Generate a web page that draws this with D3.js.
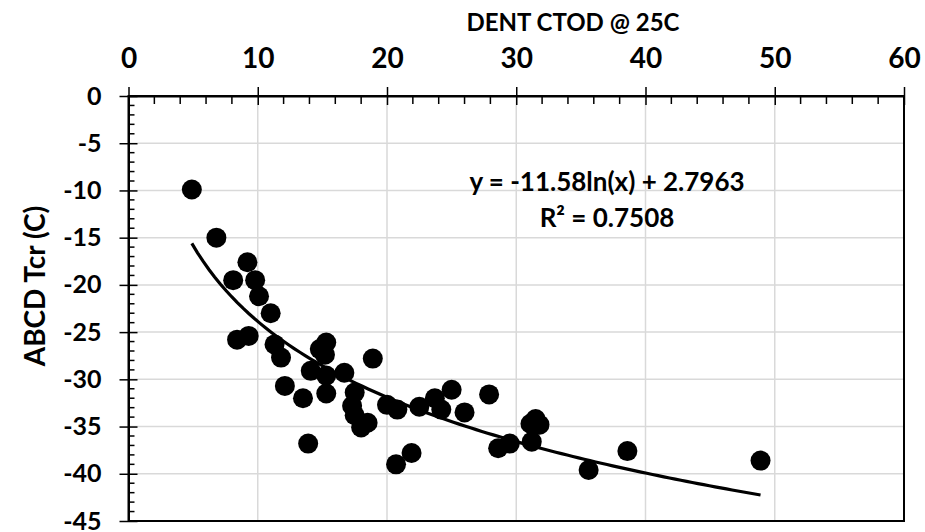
<!DOCTYPE html>
<html>
<head>
<meta charset="utf-8">
<script src="https://cdn.jsdelivr.net/npm/d3@7"></script>
<style>
  html, body { margin: 0; padding: 0; background: #fff; }
  text { font-family: Lato, "Open Sans", sans-serif; font-weight: 700; fill: #000; }
</style>
</head>
<body>
<svg id="chart" width="925" height="532"></svg>
<script>
// ---- data ----
const ctod = [4.9, 6.8, 9.2, 8.1, 9.8, 10.1, 11.0, 8.4, 9.3, 11.3, 11.8, 15.3, 14.8, 15.2, 14.1, 15.3, 16.7, 18.9, 12.1, 13.5, 15.3, 17.5, 17.3, 17.5, 18.5, 18.0, 13.9, 20.0, 20.8, 22.5, 23.7, 24.2, 25.0, 26.0, 27.9, 28.6, 29.5, 20.7, 21.9, 31.2, 31.5, 31.1, 31.8, 35.6, 38.6, 48.9];
const tcr  = [-9.9, -15.0, -17.6, -19.5, -19.5, -21.2, -23.0, -25.8, -25.4, -26.3, -27.7, -26.1, -26.8, -27.4, -29.1, -29.6, -29.3, -27.8, -30.7, -32.0, -31.5, -31.4, -32.8, -33.8, -34.6, -35.1, -36.8, -32.7, -33.2, -32.9, -32.0, -33.2, -31.1, -33.5, -31.6, -37.3, -36.8, -39.0, -37.8, -36.6, -34.2, -34.7, -34.8, -39.6, -37.6, -38.6];
const xTicks = [0, 10, 20, 30, 40, 50, 60];
const yTicks = [0, -5, -10, -15, -20, -25, -30, -35, -40, -45];
const trendCoef = [-11.58, 2.7963];
const eqLabel = "y = -11.58ln(x) + 2.7963";
const r2Label = "R² = 0.7508";
const xTitle = "DENT CTOD @ 25C";
const yTitle = "ABCD Tcr (C)";

// ---- layout ----
const L = 128.5, R = 904, T = 96, B = 521;
const svg = d3.select("#chart");
const x = d3.scaleLinear().domain([0, 60]).range([L, R]);
const y = d3.scaleLinear().domain([0, -45]).range([T, B]);
const fmt = d => String(d);

// gridlines
const grid = svg.append("g");
grid.selectAll("line.vx").data(xTicks.slice(1, -1)).join("line")
  .attr("x1", d => x(d)).attr("x2", d => x(d)).attr("y1", T).attr("y2", B)
  .attr("stroke", "#d9d9d9").attr("stroke-width", 1.5);
grid.selectAll("line.hy").data(yTicks.slice(1, -1)).join("line")
  .attr("y1", d => y(d)).attr("y2", d => y(d)).attr("x1", L).attr("x2", R)
  .attr("stroke", "#d9d9d9").attr("stroke-width", 1.5);

// plot border (right, bottom)
svg.append("rect").attr("x", L).attr("y", T).attr("width", R - L).attr("height", B - T)
  .attr("fill", "none").attr("stroke", "#000").attr("stroke-width", 2);

// top x axis: major ticks crossing, minor inside
const xAxisMajor = d3.axisTop(x).tickValues(xTicks).tickSizeInner(9).tickSizeOuter(0).tickFormat(fmt);
const gx = svg.append("g").attr("transform", `translate(0,${T})`).call(xAxisMajor);
gx.select(".domain").attr("stroke-width", 2);
gx.selectAll(".tick line").attr("stroke-width", 1.5).attr("y2", -9).attr("y1", 9);
gx.selectAll(".tick text").attr("font-size", 28).attr("y", -28).attr("dy", 0)
  .style("font-family", "Lato, sans-serif").style("font-weight", 700);
const xMinor = d3.range(0, 61, 2).filter(v => v % 10 !== 0);
svg.append("g").selectAll("line").data(xMinor).join("line")
  .attr("x1", d => x(d)).attr("x2", d => x(d)).attr("y1", T).attr("y2", T + 8)
  .attr("stroke", "#000").attr("stroke-width", 1.5);

// left y axis
const yAxisMajor = d3.axisLeft(y).tickValues(yTicks).tickSizeInner(9).tickSizeOuter(0).tickFormat(fmt);
const gy = svg.append("g").attr("transform", `translate(${L},0)`).call(yAxisMajor);
gy.select(".domain").attr("stroke-width", 2);
gy.selectAll(".tick line").attr("stroke-width", 1.5).attr("x2", -9).attr("x1", 9);
gy.selectAll(".tick text").attr("font-size", 25).attr("x", -27).attr("dy", "0.32em")
  .style("font-family", "Lato, sans-serif").style("font-weight", 700);
const yMinor = d3.range(0, -46, -1).filter(v => v % 5 !== 0);
svg.append("g").selectAll("line").data(yMinor).join("line")
  .attr("y1", d => y(d)).attr("y2", d => y(d)).attr("x1", L).attr("x2", L + 6)
  .attr("stroke", "#000").attr("stroke-width", 1.5);

// titles
svg.append("text").attr("x", 573).attr("y", 31).attr("text-anchor", "middle")
  .attr("font-size", 24).text(xTitle);
svg.append("text").attr("transform", "translate(45,286) rotate(-90)").attr("text-anchor", "middle")
  .attr("font-size", 28).text(yTitle);

// markers
const pts = ctod.map((v, i) => [v, tcr[i]]);
svg.append("g").selectAll("circle").data(pts).join("circle")
  .attr("cx", d => x(d[0])).attr("cy", d => y(d[1])).attr("r", 10).attr("fill", "#000");

// trendline
const xmin = d3.min(ctod), xmax = d3.max(ctod);
const tx = d3.range(0, 101).map(i => xmin + (xmax - xmin) * i / 100);
const line = d3.line().x(d => x(d)).y(d => y(trendCoef[0] * Math.log(d) + trendCoef[1]));
svg.append("path").datum(tx).attr("d", line).attr("fill", "none")
  .attr("stroke", "#000").attr("stroke-width", 3.2);

// equation labels
svg.append("text").attr("x", 607).attr("y", 191).attr("text-anchor", "middle")
  .attr("font-size", 26).text(eqLabel);
svg.append("text").attr("x", 607).attr("y", 227).attr("text-anchor", "middle")
  .attr("font-size", 26).text(r2Label);
</script>
</body>
</html>
